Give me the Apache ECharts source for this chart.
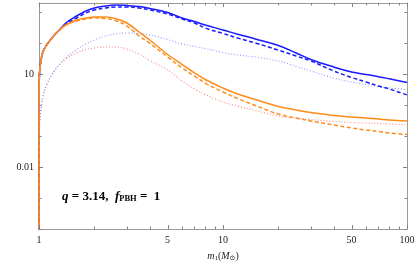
<!DOCTYPE html>
<html>
<head>
<meta charset="utf-8">
<script src="https://cdn.jsdelivr.net/npm/echarts@6/dist/echarts.min.js"></script>
<style>
  html, body { margin: 0; padding: 0; background: #fff; }
  #chart { width: 415px; height: 264px; }
</style>
</head>
<body>
<div id="chart"></div>
<script>
// primary mass m1 (solar masses)
const mass = [1, 1.002, 1.005, 1.02, 1.05, 1.1, 1.2, 1.3, 1.4, 1.6, 1.8, 2, 2.3, 2.6, 3, 3.5, 4, 5, 6, 7, 8, 10, 12, 15, 20, 25, 30, 40, 50, 60, 70, 80, 100];
const blueSolid = [1e-6, 2, 9.3, 22.7, 51, 86, 168, 272, 442, 743, 1077, 1346, 1562, 1683, 1622, 1504, 1297, 964, 640, 494, 381, 263, 192, 135, 83, 47.5, 29.5, 16.8, 11.6, 9.6, 8.2, 7.0, 5.3];
const blueDashed = [1e-6, 2, 9.3, 22.7, 51, 86, 168, 272, 410, 640, 929, 1161, 1346, 1449, 1449, 1346, 1161, 861, 594, 442, 305, 203, 145, 100, 59, 38, 26.3, 12.5, 7.7, 5.5, 4.1, 3.3, 2.1];
const blueDotted = [1e-6, 0.1, 0.195, 0.55, 1.81, 4.4, 11.6, 21, 32.8, 61.6, 93, 125, 168, 195, 210, 203, 181, 130, 93, 77, 66.5, 49.4, 41, 35.3, 26.3, 17.5, 12.5, 7.4, 5.5, 4.6, 3.95, 3.53, 3.16];
const orangeSolid = [1e-6, 2, 9.3, 22.7, 51, 86, 168, 272, 380, 552, 640, 690, 690, 617, 441, 226, 125, 42.6, 20.2, 10.8, 6.65, 3.53, 2.26, 1.5, 0.9, 0.69, 0.57, 0.458, 0.41, 0.381, 0.353, 0.328, 0.305];
const orangeDashed = [1e-6, 2, 9.3, 22.7, 51, 86, 168, 272, 380, 513, 594, 640, 617, 532, 353, 168, 98, 35.3, 15.6, 8.6, 5.1, 2.63, 1.62, 0.96, 0.51, 0.38, 0.305, 0.226, 0.181, 0.156, 0.14, 0.125, 0.112];
const pinkDotted = [1e-6, 0.1, 0.195, 0.55, 1.81, 4.4, 11.6, 21, 30.5, 47.5, 61.6, 68.7, 74, 74, 64, 44, 27.2, 13.5, 5.94, 3.28, 2.18, 1.25, 0.93, 0.665, 0.44, 0.367, 0.34, 0.294, 0.272, 0.262, 0.253, 0.244, 0.235];

const xTickValues = [1, 2, 3, 4, 5, 6, 7, 8, 9, 10, 20, 30, 40, 50, 60, 70, 80, 90, 100];
const xLabelValues = [1, 5, 10, 50, 100];
const yTickValues = [1e-4, 1e-3, 1e-2, 1e-1, 1, 10, 100, 1000];
const yLabelValues = [0.01, 10];

const FRAME = '#9a9a9a';
const TICK = '#808080';
const FONT = '"Liberation Serif", "DejaVu Serif", serif';
const X_MIN = 1, X_MAX = 100, Y_MIN = 1e-4, Y_MAX = 1950;

function pairs(ys) { return mass.map((m, i) => [m, ys[i]]); }

function xAxisCfg(pos, showLabel) {
  return {
    type: 'log', logBase: 10, min: X_MIN, max: X_MAX, position: pos,
    axisLine: { show: true, onZero: false, lineStyle: { color: FRAME, width: 1 } },
    axisTick: { show: false },
    axisLabel: { show: showLabel, customValues: xLabelValues, margin: 6, color: '#222', fontFamily: FONT, fontSize: 10,
      formatter: v => String(v) },
    splitLine: { show: false },
    minorTick: { show: false }
  };
}
function yAxisCfg(pos, showLabel) {
  return {
    type: 'log', logBase: 10, min: Y_MIN, max: Y_MAX, position: pos,
    axisLine: { show: true, onZero: false, lineStyle: { color: FRAME, width: 1 } },
    axisTick: { show: false },
    axisLabel: { show: showLabel, customValues: yLabelValues, margin: 5, color: '#222', fontFamily: FONT, fontSize: 10,
      formatter: v => (Math.abs(v - 10) < 1e-9 ? '10' : (Math.abs(v - 0.01) < 1e-12 ? '0.01' : '')) },
    splitLine: { show: false }
  };
}

const xBottom = xAxisCfg('bottom', true);
xBottom.name = '{i|m}{s|1}{n|(}{i|M}{s|⊙}{n|)}';
xBottom.nameLocation = 'middle';
xBottom.nameGap = 22;
xBottom.nameTextStyle = {
  rich: {
    i: { fontFamily: FONT, fontStyle: 'italic', fontSize: 10, color: '#222' },
    n: { fontFamily: FONT, fontSize: 10, color: '#222' },
    s: { fontFamily: FONT, fontSize: 7, color: '#222', verticalAlign: 'bottom', padding: [4, 0, 0, 0] }
  }
};

function line(name, ys, color, type, width, z) {
  return {
    name, type: 'line', data: pairs(ys), showSymbol: false, symbol: 'none',
    smooth: 0.4, clip: true, z: z,
    lineStyle: { color, width, type }
  };
}

const chart = echarts.init(document.getElementById('chart'), null, { renderer: 'canvas' });
const annotation = {
  type: 'text', left: 62, top: 190,
  style: {
    text: '{bi|q}{b| = 3.14,  }{bi|f}{sub|PBH}{b| =  1}',
    rich: {
      bi: { fontFamily: FONT, fontStyle: 'italic', fontWeight: 'bold', fontSize: 13, fill: '#000' },
      b: { fontFamily: FONT, fontWeight: 'bold', fontSize: 13, fill: '#000' },
      sub: { fontFamily: FONT, fontWeight: 'bold', fontSize: 8.5, fill: '#000', verticalAlign: 'bottom', padding: [4, 0, 0, 0] }
    }
  }
};
chart.setOption({
  animation: false,
  backgroundColor: '#fff',
  grid: { left: 39, right: 8, top: 3, bottom: 35, containLabel: false, outerBoundsMode: 'none' },
  xAxis: [xBottom, xAxisCfg('top', false)],
  yAxis: [yAxisCfg('left', true), yAxisCfg('right', false)],
  series: [
    line('pinkDotted', pinkDotted, '#ff8585', [1, 2], 1.1, 2),
    line('blueDotted', blueDotted, '#9494ff', [1, 2], 1.1, 2),
    line('blueDashed', blueDashed, '#1a1aff', [4, 2.5], 1.5, 3),
    line('blueSolid', blueSolid, '#1a1aff', 'solid', 1.5, 4),
    line('orangeDashed', orangeDashed, '#ff8c1a', [4, 2.5], 1.5, 5),
    line('orangeSolid', orangeSolid, '#ff8c1a', 'solid', 1.5, 6)
  ],
  graphic: [annotation]
});

// inward frame ticks placed through the axes' own scales
const frameLeft = chart.convertToPixel({ xAxisIndex: 0 }, X_MIN);
const frameRight = chart.convertToPixel({ xAxisIndex: 0 }, X_MAX);
const frameBottom = chart.convertToPixel({ yAxisIndex: 0 }, Y_MIN);
const frameTop = chart.convertToPixel({ yAxisIndex: 0 }, Y_MAX);
const tickEls = [];
const tickStyle = { stroke: TICK, lineWidth: 1 };
xTickValues.forEach(v => {
  const p = Math.round(chart.convertToPixel({ xAxisIndex: 0 }, v)) + 0.5;
  const len = xLabelValues.includes(v) ? 4 : 2.5;
  tickEls.push({ type: 'line', silent: true, z: 10, shape: { x1: p, y1: frameBottom, x2: p, y2: frameBottom - len }, style: tickStyle });
  tickEls.push({ type: 'line', silent: true, z: 10, shape: { x1: p, y1: frameTop, x2: p, y2: frameTop + len }, style: tickStyle });
});
yTickValues.forEach(v => {
  const p = Math.round(chart.convertToPixel({ yAxisIndex: 0 }, v)) + 0.5;
  const len = yLabelValues.includes(v) ? 4 : 2.5;
  tickEls.push({ type: 'line', silent: true, z: 10, shape: { x1: frameLeft, y1: p, x2: frameLeft + len, y2: p }, style: tickStyle });
  tickEls.push({ type: 'line', silent: true, z: 10, shape: { x1: frameRight, y1: p, x2: frameRight - len, y2: p }, style: tickStyle });
});
chart.setOption({ graphic: [annotation].concat(tickEls) }, { replaceMerge: ['graphic'] });
</script>
</body>
</html>
